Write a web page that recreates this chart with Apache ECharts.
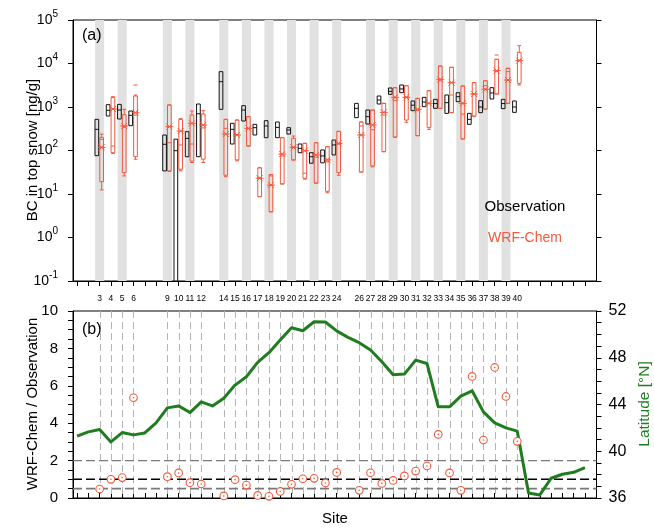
<!DOCTYPE html>
<html>
<head>
<meta charset="utf-8">
<script src="https://cdn.jsdelivr.net/npm/echarts@6/dist/echarts.min.js"></script>
<style>
html, body { margin: 0; padding: 0; background: #fff; }
#chart { width: 654px; height: 528px; }
</style>
</head>
<body>
<div id="chart"></div>
<script>
// Sites with measurements
const sites = [3, 4, 5, 6, 9, 10, 11, 12, 14, 15, 16, 17, 18, 19, 20, 21, 22, 23, 24,
               26, 27, 28, 29, 30, 31, 32, 33, 34, 35, 36, 37, 38, 39, 40];
// Sites highlighted with a grey band in panel (a)
const shadedSites = [3, 5, 9, 11, 14, 16, 18, 20, 22, 24, 27, 29, 31, 33, 35, 37, 39];
// Site tick marks
const tickSites = [1, 2, 3, 4, 5, 6, 7, 8, 9, 10, 11, 12, 13, 14, 15, 16, 17, 18, 19, 20, 21, 22, 23,
                   24, 25, 26, 27, 28, 29, 30, 31, 32, 33, 34, 35, 36, 37, 38, 39, 40, 41, 42, 43, 44, 45, 46];

// Observed BC in top snow [ng/g]: lower quartile, median, upper quartile
const obsQ1  = [76, 621, 530, 372, 34, 0.05, 72, 72, 883, 141, 476, 227, 197, 197, 239, 89, 51, 52, 79,
                569, 406, 1172, 1954, 2133, 824, 1019, 931, 714, 1324, 399, 741, 1528, 916, 753];
const obsMed = [306, 838, 853, 643, 139, 99, 190, 700, 3820, 306, 853, 335, 366, 340, 296, 112, 72, 75, 134,
                931, 600, 1449, 2290, 2600, 1100, 1300, 1200, 1256, 1726, 520, 1000, 2100, 1200, 1000];
const obsQ3  = [520, 1130, 1150, 809, 227, 182, 271, 1172, 6490, 421, 1072, 399, 485, 452, 335, 141, 89, 103, 174,
                1213, 853, 1790, 2735, 3206, 1374, 1667, 1500, 1888, 2133, 714, 1400, 2780, 1500, 1374];

// WRF-Chem BC in top snow [ng/g]: whisker low, lower quartile, median, upper quartile, whisker high, mean
const modLo   = [12.4, 86, 26, 63, 33, 34, 53, 53, 25, 58, 127, 8.7, 3.9, 17, 60, 22, 17.6, 10.7, 27,
                 32, 42, 94, 200, 444, 219, 306, 931, 741, 184, 600, 883, 1990, 1213, 3206];
const modQ1   = [19.2, 89, 31, 72, 34, 37, 57, 63, 27, 61, 127, 8.7, 3.9, 17, 61, 23, 18, 11.5, 31,
                 32, 44, 94, 205, 502, 219, 340, 931, 741, 184, 621, 900, 1990, 1213, 3500];
const modMed  = [180, 127, 340, 650, 151, 134, 141, 330, 323, 230, 320, 24, 26, 75, 120, 30, 70, 55, 140,
                 366, 300, 650, 1400, 1700, 850, 1200, 4000, 1888, 690, 2000, 3100, 6500, 6500, 12000];
const modQ3   = [200, 1660, 667, 1790, 1112, 520, 655, 690, 520, 502, 600, 40, 28, 197, 191, 146, 151, 122, 275,
                 452, 853, 1213, 2780, 3090, 1581, 2371, 8750, 8166, 3041, 3622, 4027, 12470, 7745, 18070];
const modHi   = [239, 1726, 883, 1888, 1112, 540, 809, 824, 520, 502, 600, 40, 28, 197, 215, 146, 151, 122, 275,
                 452, 853, 1213, 2780, 3090, 1581, 2371, 8750, 8166, 3041, 3622, 4027, 12470, 7745, 25700];
const modMean = [118, 900, 366, 741, 353, 280, 421, 385, 239, 227, 323, 23, 16, 83, 118, 99, 79, 61, 146,
                 227, 385, 753, 1667, 1667, 883, 1213, 4325, 3622, 1213, 1991, 2547, 6839, 4169, 11610];
// Model outliers
const outlierSites  = [6, 38];
const outlierValues = [3206, 15670];

// WRF-Chem / Observation ratio per site
const ratio = [0.48, 1.0, 1.09, 5.36, 1.14, 1.34, 0.82, 0.75, 0.11, 0.98, 0.69, 0.14, 0.09, 0.35, 0.73, 1.03, 1.05, 0.80, 1.37,
               0.41, 1.35, 0.78, 0.94, 1.18, 1.44, 1.71, 3.40, 1.34, 0.41, 6.50, 3.10, 6.98, 5.43, 3.03];
// Reference ratio levels
const refLevels = [2, 1, 0.5];

// Site latitude [°N], sites 1..46
const latitude = [41.29, 41.66, 41.86, 40.80, 41.60, 41.40, 41.57, 42.43, 43.71, 43.88, 43.31, 44.23, 43.88, 44.54,
                  45.66, 46.37, 47.60, 48.43, 49.51, 50.57, 50.31, 51.08, 51.06, 50.30, 49.74, 49.29, 48.66, 47.66,
                  46.54, 46.60, 47.80, 47.51, 43.80, 43.80, 44.71, 45.17, 43.37, 42.43, 42.00, 41.72, 36.43, 36.26,
                  37.69, 38.03, 38.20, 38.60];

const X_MIN = 0.64, X_MAX = 47.02;
const FONT = '"Liberation Sans", Arial, Helvetica, sans-serif';
const RED = '#f25a3c';
const GREEN = '#1f7d1f';
const BOX_W = 3.7;

const chart = echarts.init(document.getElementById('chart'), null, { renderer: 'canvas' });

function superLabel(v) {
  return '{b|10}{s|' + Math.round(Math.log10(v)) + '}';
}

function renderBand(params, api) {
  const s = api.value(0);
  const cs = params.coordSys;
  const a = api.coord([s - 0.4, 1e5]);
  const b = api.coord([s + 0.4, 1e5]);
  return {
    type: 'rect', silent: true,
    shape: { x: a[0], y: cs.y, width: b[0] - a[0], height: cs.height },
    style: { fill: '#e1e1e1' }
  };
}

function renderObs(params, api) {
  const s = api.value(0);
  const p1 = api.coord([s, api.value(1)]);
  const pm = api.coord([s, api.value(2)]);
  const p3 = api.coord([s, api.value(3)]);
  const cx = p1[0] - 2.8;
  const hw = BOX_W / 2;
  const st = { stroke: '#111', lineWidth: 1, fill: 'none' };
  return {
    type: 'group', silent: true,
    children: [
      { type: 'rect', shape: { x: cx - hw, y: p3[1], width: BOX_W, height: p1[1] - p3[1] }, style: st },
      { type: 'line', shape: { x1: cx - hw, y1: pm[1], x2: cx + hw, y2: pm[1] }, style: st }
    ]
  };
}

function renderModel(params, api) {
  const s = api.value(0);
  const lo = api.coord([s, api.value(1)]);
  const q1 = api.coord([s, api.value(2)]);
  const md = api.coord([s, api.value(3)]);
  const q3 = api.coord([s, api.value(4)]);
  const hi = api.coord([s, api.value(5)]);
  const mn = api.coord([s, api.value(6)]);
  const cx = lo[0] + 2.0;
  const hw = BOX_W / 2;
  const st = { stroke: RED, lineWidth: 1, fill: 'none' };
  const line = (x1, y1, x2, y2) => ({ type: 'line', shape: { x1, y1, x2, y2 }, style: st });
  return {
    type: 'group', silent: true,
    children: [
      { type: 'rect', shape: { x: cx - hw, y: q3[1], width: BOX_W, height: q1[1] - q3[1] }, style: st },
      line(cx - hw, md[1], cx + hw, md[1]),
      line(cx, hi[1], cx, q3[1]),
      line(cx, q1[1], cx, lo[1]),
      line(cx - hw, hi[1], cx + hw, hi[1]),
      line(cx - hw, lo[1], cx + hw, lo[1]),
      // mean: asterisk
      line(cx - 4, mn[1], cx + 4, mn[1]),
      line(cx - 3, mn[1] - 3, cx + 3, mn[1] + 3),
      line(cx - 3, mn[1] + 3, cx + 3, mn[1] - 3)
    ]
  };
}

function renderOutlier(params, api) {
  const p = api.coord([api.value(0), api.value(1)]);
  const cx = p[0] + 2.0;
  return {
    type: 'line', silent: true,
    shape: { x1: cx - 2, y1: p[1], x2: cx + 2, y2: p[1] },
    style: { stroke: RED, lineWidth: 1 }
  };
}

function renderSiteLine(params, api) {
  const s = api.value(0);
  const a = api.coord([s, 0]);
  const b = api.coord([s, 10]);
  const x = Math.round(a[0]) + 0.5;
  return {
    type: 'line', silent: true,
    shape: { x1: x, y1: b[1], x2: x, y2: a[1] },
    style: { stroke: '#b4b4b4', lineWidth: 1, lineDash: [7, 4] }
  };
}

function renderRatio(params, api) {
  const p = api.coord([api.value(0), api.value(1)]);
  return {
    type: 'group', silent: true,
    children: [
      { type: 'circle', shape: { cx: p[0], cy: p[1], r: 3.8 }, style: { fill: '#fff', stroke: RED, lineWidth: 1.1 } },
      { type: 'circle', shape: { cx: p[0], cy: p[1], r: 0.8 }, style: { fill: RED } }
    ]
  };
}

const axisCommon = {
  axisLine: { show: true, lineStyle: { color: '#000', width: 1 } },
  splitLine: { show: false }
};

const refColors = ['#7a7a7a', '#000', '#7a7a7a'];
const refWidths = [1.3, 1.6, 1.6];

const option = {
  animation: false,
  backgroundColor: '#fff',
  textStyle: { fontFamily: FONT },
  grid: [
    { left: 73, top: 20, width: 523.5, height: 261, show: true, borderColor: '#000', borderWidth: 1, outerBoundsMode: 'none', containLabel: false },
    { left: 73, top: 311, width: 523.5, height: 187, show: true, borderColor: '#000', borderWidth: 1, outerBoundsMode: 'none', containLabel: false }
  ],
  xAxis: [
    Object.assign({}, axisCommon, {
      gridIndex: 0, type: 'value', min: X_MIN, max: X_MAX, position: 'bottom',
      axisTick: { show: true, customValues: tickSites, length: 5, lineStyle: { color: '#000' } },
      axisLabel: { show: true, customValues: sites, fontSize: 8.5, margin: 13, color: '#000', fontFamily: FONT }
    }),
    Object.assign({}, axisCommon, {
      gridIndex: 1, type: 'value', min: X_MIN, max: X_MAX, position: 'top',
      axisTick: { show: true, customValues: tickSites, length: 5, lineStyle: { color: '#000' } },
      axisLabel: { show: false }
    })
  ],
  yAxis: [
    Object.assign({}, axisCommon, {
      gridIndex: 0, type: 'log', logBase: 10, min: 0.1, max: 1e5, position: 'left',
      axisTick: { show: true, length: 5, lineStyle: { color: '#000' } },
      axisLabel: {
        show: true, margin: 15, color: '#000', formatter: superLabel,
        rich: {
          b: { fontSize: 14, lineHeight: 22, fontFamily: FONT, color: '#000' },
          s: { fontSize: 10, lineHeight: 12, verticalAlign: 'top', fontFamily: FONT, color: '#000' }
        }
      }
    }),
    Object.assign({}, axisCommon, {
      gridIndex: 0, type: 'log', logBase: 10, min: 0.1, max: 1e5, position: 'right',
      axisTick: { show: true, length: 5, lineStyle: { color: '#000' } },
      axisLabel: { show: false }
    }),
    Object.assign({}, axisCommon, {
      gridIndex: 1, type: 'value', min: 0, max: 10, interval: 2, position: 'left',
      axisTick: { show: true, length: 5, lineStyle: { color: '#000' } },
      minorTick: { show: true, splitNumber: 4, length: 5, lineStyle: { color: '#000' } },
      axisLabel: { show: true, margin: 15, fontSize: 15, color: '#000', fontFamily: FONT }
    }),
    Object.assign({}, axisCommon, {
      gridIndex: 1, type: 'value', min: 36, max: 52, interval: 4, position: 'right',
      axisTick: { show: true, length: 5, lineStyle: { color: '#000' } },
      minorTick: { show: true, splitNumber: 4, length: 5, lineStyle: { color: '#000' } },
      axisLabel: { show: true, margin: 12, fontSize: 16, color: '#000', fontFamily: FONT }
    })
  ],
  series: [
    { type: 'custom', xAxisIndex: 0, yAxisIndex: 0, z: 1, clip: true, silent: true,
      data: shadedSites.map(s => [s]), renderItem: renderBand },
    { type: 'custom', xAxisIndex: 0, yAxisIndex: 0, z: 3, clip: true, silent: true,
      data: sites.map((s, i) => [s, obsQ1[i], obsMed[i], obsQ3[i]]), renderItem: renderObs },
    { type: 'custom', xAxisIndex: 0, yAxisIndex: 0, z: 4, clip: true, silent: true,
      data: sites.map((s, i) => [s, modLo[i], modQ1[i], modMed[i], modQ3[i], modHi[i], modMean[i]]), renderItem: renderModel },
    { type: 'custom', xAxisIndex: 0, yAxisIndex: 0, z: 4, clip: true, silent: true,
      data: outlierSites.map((s, i) => [s, outlierValues[i]]), renderItem: renderOutlier },
    { type: 'custom', xAxisIndex: 1, yAxisIndex: 2, z: 1, clip: true, silent: true,
      data: sites.map(s => [s]), renderItem: renderSiteLine }
  ].concat(refLevels.map((lv, i) => ({
      type: 'line', xAxisIndex: 1, yAxisIndex: 2, z: 2, silent: true, showSymbol: false, symbol: 'none',
      data: [[X_MIN, lv], [X_MAX, lv]],
      lineStyle: { color: refColors[i], width: refWidths[i], type: [9, 4] }
  }))).concat([
    { type: 'line', xAxisIndex: 1, yAxisIndex: 3, z: 5, silent: true, showSymbol: false, symbol: 'none',
      data: latitude.map((v, i) => [tickSites[i], v]),
      lineStyle: { color: GREEN, width: 3, join: 'round' } },
    { type: 'custom', xAxisIndex: 1, yAxisIndex: 2, z: 6, clip: false, silent: true,
      data: sites.map((s, i) => [s, ratio[i]]), renderItem: renderRatio }
  ]),
  graphic: [
    { type: 'text', z: 100, left: 82, top: 28, style: { text: '(a)', font: '16px ' + FONT, fill: '#000' } },
    { type: 'text', z: 100, left: 82, top: 322, style: { text: '(b)', font: '16px ' + FONT, fill: '#000' } },
    { type: 'text', z: 100, x: 525, y: 207, style: { text: 'Observation', font: '15px ' + FONT, fill: '#000', align: 'center', verticalAlign: 'middle' } },
    { type: 'text', z: 100, x: 525, y: 238, style: { text: 'WRF-Chem', font: '14px ' + FONT, fill: RED, align: 'center', verticalAlign: 'middle' } },
    { type: 'text', z: 100, x: 33, y: 150, rotation: Math.PI / 2, style: { text: 'BC in top snow [ng/g]', font: '15px ' + FONT, fill: '#000', align: 'center', verticalAlign: 'middle' } },
    { type: 'text', z: 100, x: 33, y: 404, rotation: Math.PI / 2, style: { text: 'WRF-Chem / Observation', font: '15px ' + FONT, fill: '#000', align: 'center', verticalAlign: 'middle' } },
    { type: 'text', z: 100, x: 645, y: 404, rotation: Math.PI / 2, style: { text: 'Latitude [°N]', font: '15.5px ' + FONT, fill: GREEN, align: 'center', verticalAlign: 'middle' } },
    { type: 'text', z: 100, x: 335, y: 519, style: { text: 'Site', font: '15px ' + FONT, fill: '#000', align: 'center', verticalAlign: 'middle' } }
  ]
};

chart.setOption(option);
</script>
</body>
</html>
